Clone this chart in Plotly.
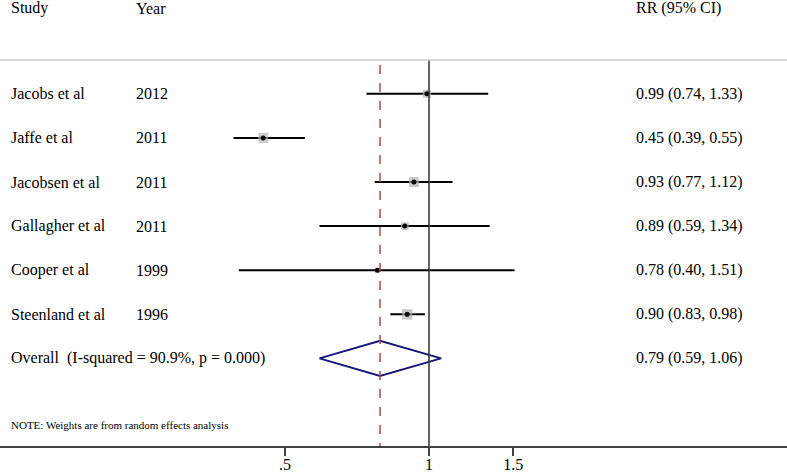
import math
import plotly.graph_objects as go

studies = ["Jacobs et al", "Jaffe et al", "Jacobsen et al", "Gallagher et al", "Cooper et al", "Steenland et al"]
years = ["2012", "2011", "2011", "2011", "1999", "1996"]
rr = [0.99, 0.45, 0.93, 0.89, 0.78, 0.90]
lo = [0.74, 0.39, 0.77, 0.59, 0.40, 0.83]
hi = [1.33, 0.55, 1.12, 1.34, 1.51, 0.98]
weights = [15, 18, 18, 14, 9, 19]  # approx. % weights (square size)

overall = dict(rr=0.79, lo=0.59, hi=1.06, label="Overall  (I-squared = 90.9%, p = 0.000)")
note = "NOTE: Weights are from random effects analysis"

tick_vals = [0.5, 1, 1.5]
tick_text = [".5", "1", "1.5"]

FONT = "Liberation Serif, Times New Roman, serif"
W, H = 787, 474
PX_PER_LN = 207.6
X_ONE = 429
AXIS_Y = 446
ROW0, ROW_STEP = 93.8, 44.1


def px_to_row(py):
    return (py - ROW0) / ROW_STEP


x_lo = (0 - X_ONE) / PX_PER_LN / math.log(10)
x_hi = (W - X_ONE) / PX_PER_LN / math.log(10)

fig = go.Figure()

# CI lines
for i in range(len(studies)):
    fig.add_trace(go.Scatter(x=[lo[i], hi[i]], y=[i, i], mode="lines",
                             line=dict(color="black", width=2), hoverinfo="skip"))

# weight squares + point estimates
fig.add_trace(go.Scatter(x=rr, y=list(range(len(rr))), mode="markers",
                         marker=dict(symbol="square", color="#b4b4b4",
                                     size=[w * 0.55 for w in weights], line=dict(width=0))))
fig.add_trace(go.Scatter(x=rr, y=list(range(len(rr))), mode="markers",
                         marker=dict(symbol="circle", color="black", size=5)))

# overall diamond
k = len(studies)
dh = 17.5 / ROW_STEP
fig.add_trace(go.Scatter(
    x=[overall["lo"], overall["rr"], overall["hi"], overall["rr"], overall["lo"]],
    y=[k, k - dh, k, k + dh, k], mode="lines",
    line=dict(color="#17177a", width=2)))

# reference lines
fig.add_shape(type="line", xref="x", yref="y", x0=1, x1=1,
              y0=px_to_row(60), y1=px_to_row(AXIS_Y), line=dict(color="#303030", width=1.5))
fig.add_shape(type="line", xref="x", yref="y", x0=overall["rr"], x1=overall["rr"],
              y0=px_to_row(65), y1=px_to_row(AXIS_Y),
              line=dict(color="#a0504c", width=1.5, dash="dash"))
# header rule
fig.add_shape(type="line", xref="paper", yref="y", x0=0, x1=1,
              y0=px_to_row(60), y1=px_to_row(60), line=dict(color="#cccccc", width=1.5))


def txt(x, y, s, size=16):
    fig.add_annotation(x=x / W, xref="paper", y=y, yref="y", text=s, showarrow=False,
                       xanchor="left", yanchor="middle", font=dict(family=FONT, size=size, color="black"))


txt(9, px_to_row(8), "Study")
txt(134, px_to_row(8), "Year")
txt(634, px_to_row(8), "RR (95% CI)")
for i in range(k):
    txt(9, i, studies[i])
    txt(134, i, years[i])
    txt(634, i, f"{rr[i]:.2f} ({lo[i]:.2f}, {hi[i]:.2f})")
txt(9, k, overall["label"])
txt(634, k, f"{overall['rr']:.2f} ({overall['lo']:.2f}, {overall['hi']:.2f})")
txt(9, px_to_row(425), note, size=11)

fig.update_layout(
    width=W, height=H, margin=dict(l=0, r=0, t=0, b=H - AXIS_Y),
    paper_bgcolor="white", plot_bgcolor="white", showlegend=False,
    xaxis=dict(type="log", range=[x_lo, x_hi], tickvals=tick_vals, ticktext=tick_text,
               showgrid=False, zeroline=False, showline=True, linecolor="#404040", linewidth=1.5,
               ticks="outside", ticklen=8, tickwidth=1.5, tickcolor="#404040", automargin=False,
               ticklabelstandoff=-5,
               tickfont=dict(family=FONT, size=16, color="black")),
    yaxis=dict(range=[px_to_row(AXIS_Y), px_to_row(0)], visible=False, showgrid=False,
               zeroline=False, automargin=False),
)

fig.write_html("out.html", config={"displayModeBar": False},
               post_script="document.body.style.margin='0';document.body.style.overflow='hidden';")
